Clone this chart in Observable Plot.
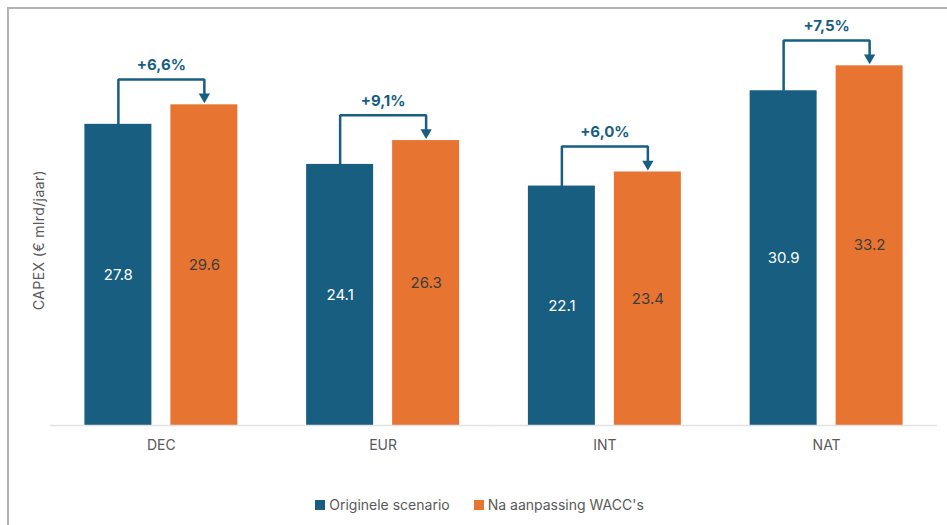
<!DOCTYPE html>
<html>
<head>
<meta charset="utf-8">
<script src="https://cdn.jsdelivr.net/npm/d3@7"></script>
<script src="https://cdn.jsdelivr.net/npm/@observablehq/plot@0.6"></script>
<style>
  html, body { margin: 0; padding: 0; background: #fff; }
  body { width: 947px; height: 525px; position: relative; overflow: hidden; font-family: Inter, "Noto Sans", sans-serif; }
  #frame { position: absolute; left: 7px; top: 7px; width: 1000px; height: 600px;
           border-top: 2px solid #b3b3b3; border-left: 2px solid #b3b3b3; }
  #chart { position: absolute; left: 0; top: 0; }
  #ylabel { position: absolute; left: 38px; top: 240px; transform: translate(-50%, -50%) rotate(-90deg);
            white-space: nowrap; font-size: 14px; letter-spacing: 0.4px; color: #595959; }
  #legend { position: absolute; top: 496px; left: 0; width: 947px; display: flex; justify-content: center;
            gap: 24px; font-size: 14px; color: #595959; padding-left: 12px; box-sizing: border-box; }
  #legend span.item { display: inline-flex; align-items: center; gap: 4px; }
  #legend span.sw { width: 10px; height: 10px; display: inline-block; }
</style>
</head>
<body>
<div id="frame"></div>
<div id="chart"></div>
<div id="ylabel">CAPEX (€ mlrd/jaar)</div>
<div id="legend"></div>
<script>
// Scenario groups and CAPEX values (€ mlrd/jaar)
const categories = ["DEC", "EUR", "INT", "NAT"];
const series = ["Originele scenario", "Na aanpassing WACC's"];
const original = [27.8, 24.1, 22.1, 30.9];
const adjusted = [29.6, 26.3, 23.4, 33.2];
const changeLabels = ["+6,6%", "+9,1%", "+6,0%", "+7,5%"];

const colors = ["#175e80", "#e87431"];
const labelColors = ["#ffffff", "#3d3d3d"];

// long-format table for the bars
const bars = categories.flatMap((c, i) => [
  {cat: c, s: series[0], v: original[i]},
  {cat: c, s: series[1], v: adjusted[i]}
]);

// bracket connecting the two bars of each group (data units above the taller bar)
const gap = 2.35;
const bracket = categories.flatMap((c, i) => {
  const top = adjusted[i] + gap;
  return [
    {cat: c, s: series[0], y: original[i]},
    {cat: c, s: series[0], y: top},
    {cat: c, s: series[1], y: top},
    {cat: c, s: series[1], y: adjusted[i] + 0.8}
  ];
});
const heads = categories.map((c, i) => ({cat: c, s: series[1], y: adjusted[i]}));
const changes = categories.map((c, i) => ({cat: c, y: adjusted[i] + gap, label: changeLabels[i]}));

const chart = Plot.plot({
  width: 947,
  height: 470,
  marginLeft: 50,
  marginRight: 10,
  marginTop: 35,
  marginBottom: 45,
  style: {fontFamily: "Inter, 'Noto Sans', sans-serif", background: "transparent"},
  fx: {domain: categories, padding: 0, round: false, axis: null},
  x: {domain: series, paddingInner: 0.221, paddingOuter: 0.4, round: false, axis: null},
  y: {domain: [0, 36], axis: null},
  color: {domain: series, range: colors},
  marks: [
    Plot.barY(bars, {fx: "cat", x: "s", y: "v", fill: "s"}),
    Plot.ruleY([0], {stroke: "#e3e3e3", strokeWidth: 1.5}),
    Plot.axisFx({anchor: "bottom", label: null, tickSize: 0, tickPadding: 15, fontSize: 14, color: "#595959"}),
    Plot.text(bars, {fx: "cat", x: "s", y: d => d.v / 2, text: d => d.v.toFixed(1),
      fill: d => labelColors[series.indexOf(d.s)], fontSize: 15}),
    Plot.line(bracket, {fx: "cat", x: "s", y: "y", z: "cat", stroke: colors[0], strokeWidth: 2.5,
      curve: "linear", strokeLinejoin: "miter", strokeLinecap: "butt"}),
    Plot.dot(heads, {fx: "cat", x: "s", y: "y", symbol: "triangle", rotate: 180, r: 4.2,
      fill: colors[0], stroke: null, dy: -8}),
    Plot.text(changes, {fx: "cat", y: "y", text: "label", dy: -14, fill: colors[0],
      fontWeight: "bold", fontSize: 15})
  ]
});
document.getElementById("chart").append(chart);

// legend
const legend = document.getElementById("legend");
series.forEach((s, i) => {
  const item = document.createElement("span");
  item.className = "item";
  item.innerHTML = `<span class="sw" style="background:${colors[i]}"></span>${s}`;
  legend.append(item);
});
</script>
</body>
</html>
